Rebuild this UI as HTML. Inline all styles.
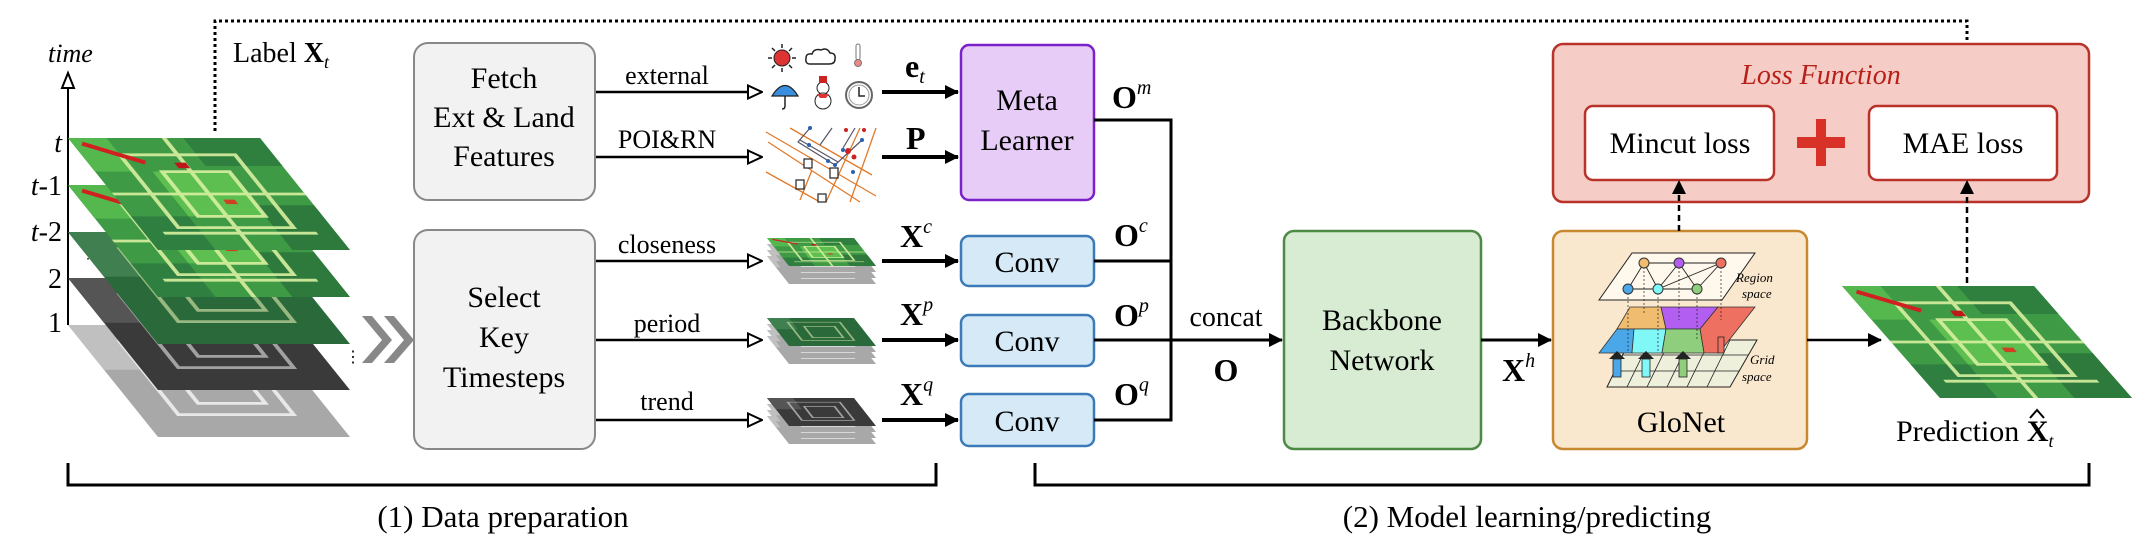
<!DOCTYPE html>
<html><head><meta charset="utf-8"><style>
html,body{margin:0;padding:0;background:#fff}
svg{display:block}
text{font-family:"Liberation Serif",serif;fill:#000}
</style></head><body>
<svg width="2144" height="542" viewBox="0 0 2144 542" xmlns="http://www.w3.org/2000/svg">
<defs>
<marker id="ahB" markerWidth="14" markerHeight="14" refX="13" refY="7" orient="auto" markerUnits="userSpaceOnUse"><path d="M0,0 L14,7 L0,14 Z" fill="#000"/></marker>
<marker id="ahO" markerWidth="16" markerHeight="16" refX="15" refY="8" orient="auto" markerUnits="userSpaceOnUse"><path d="M1,1.5 L15,8 L1,14.5 Z" fill="#fff" stroke="#000" stroke-width="2"/></marker>
<g id="grn">
<rect width="100" height="100" fill="#3f9a45"/>
<rect x="0" y="0" width="20" height="30" fill="#55b84e"/>
<rect x="60" y="0" width="40" height="25" fill="#2f7f3f"/>
<rect x="70" y="60" width="30" height="40" fill="#2d7a3c"/>
<rect x="0" y="70" width="30" height="30" fill="#2f8040"/>
<rect x="30" y="30" width="40" height="40" fill="#5cbf4f"/>
<g fill="none" stroke="#d8f0a0" stroke-width="2.5" opacity="0.9">
<rect x="20" y="15" width="60" height="65"/>
<rect x="35" y="30" width="35" height="40"/>
<path d="M0,50 H100 M50,0 V100 M10,85 H90"/>
</g>
<path d="M5,5 L30,22" stroke="#d02020" stroke-width="4"/>
<rect x="45" y="22" width="6" height="5" fill="#c01818"/>
<rect x="55" y="55" width="6" height="4" fill="#d04020"/>
</g>
<g id="dgrn">
<rect width="100" height="100" fill="#2a6a3a"/>
<rect x="0" y="0" width="25" height="40" fill="#3f7f50"/>
<g fill="none" stroke="#c8d8a0" stroke-width="2.5" opacity="0.7">
<rect x="20" y="15" width="60" height="65"/><rect x="35" y="30" width="35" height="40"/></g>
</g>
<g id="dgry">
<rect width="100" height="100" fill="#3a3a3a"/>
<rect x="0" y="0" width="30" height="40" fill="#555"/>
<g fill="none" stroke="#bbb" stroke-width="2.5" opacity="0.8">
<rect x="20" y="15" width="60" height="65"/><rect x="35" y="30" width="35" height="40"/></g>
</g>
<g id="lgry">
<rect width="100" height="100" fill="#a8a8a8"/>
<rect x="0" y="0" width="30" height="40" fill="#c0c0c0"/>
<g fill="none" stroke="#e8e8e8" stroke-width="2.5">
<rect x="20" y="15" width="60" height="65"/><rect x="35" y="30" width="35" height="40"/></g>
</g>
</defs>

<path d="M215,131 V21 H1967 V100" fill="none" stroke="#000" stroke-width="3" stroke-dasharray="3,3"/>
<path d="M1959,92 L1967,106 L1975,92 Z" fill="#000"/>

<text x="48" y="62" font-size="26" font-style="italic">time</text>
<line x1="68" y1="88" x2="68" y2="325" stroke="#000" stroke-width="2"/>
<path d="M62,88 L68,73 L74,88 Z" fill="#fff" stroke="#000" stroke-width="2"/>
<text x="62" y="152" font-size="28" font-style="italic" text-anchor="end">t</text>
<text x="62" y="195" font-size="28" text-anchor="end"><tspan font-style="italic">t</tspan>-1</text>
<text x="62" y="241" font-size="28" text-anchor="end"><tspan font-style="italic">t</tspan>-2</text>
<text x="62" y="288" font-size="28" text-anchor="end">2</text>
<text x="62" y="332" font-size="28" text-anchor="end">1</text>
<text x="81" y="258" font-size="14">⋮</text>
<text x="233" y="62" font-size="28">Label <tspan font-weight="bold">X</tspan><tspan font-size="18" font-style="italic" dy="6">t</tspan></text>

<use href="#lgry" transform="matrix(1.92,0,0.9,1.12,68,325)"/>
<use href="#dgry" transform="matrix(1.92,0,0.9,1.12,68,278)"/>
<use href="#dgrn" transform="matrix(1.92,0,0.9,1.12,68,232)"/>
<use href="#grn" transform="matrix(1.92,0,0.9,1.12,68,185)"/>
<use href="#grn" transform="matrix(1.92,0,0.9,1.12,68,138)"/>
<text x="345" y="362" font-size="16">⋮</text>

<path d="M362,316 L382,340 L362,363 L372,363 L392,340 L372,316 Z" fill="#888"/>
<path d="M384,316 L404,340 L384,363 L394,363 L414,340 L394,316 Z" fill="#888"/>

<rect x="414" y="43" width="181" height="157" rx="14" fill="#f2f2f2" stroke="#888" stroke-width="2"/>
<text x="504" y="88" font-size="30" text-anchor="middle">Fetch</text>
<text x="504" y="127" font-size="30" text-anchor="middle">Ext &amp; Land</text>
<text x="504" y="166" font-size="30" text-anchor="middle">Features</text>
<rect x="414" y="230" width="181" height="219" rx="14" fill="#f2f2f2" stroke="#888" stroke-width="2"/>
<text x="504" y="307" font-size="30" text-anchor="middle">Select</text>
<text x="504" y="347" font-size="30" text-anchor="middle">Key</text>
<text x="504" y="387" font-size="30" text-anchor="middle">Timesteps</text>

<g stroke="#000" stroke-width="2.5" marker-end="url(#ahO)">
<line x1="596" y1="92" x2="762" y2="92"/>
<line x1="596" y1="157" x2="762" y2="157"/>
<line x1="596" y1="261" x2="762" y2="261"/>
<line x1="596" y1="340" x2="762" y2="340"/>
<line x1="596" y1="420" x2="762" y2="420"/>
</g>
<g font-size="26" text-anchor="middle">
<text x="667" y="84">external</text>
<text x="667" y="148">POI&amp;RN</text>
<text x="667" y="253">closeness</text>
<text x="667" y="332">period</text>
<text x="667" y="410">trend</text>
</g>

<g>
<g stroke="#222" stroke-width="1.5"><path d="M782,44 V48 M782,68 V72 M768,58 H772 M792,58 H796 M772,48 L775,51 M792,48 L789,51 M772,68 L775,65 M792,68 L789,65"/></g>
<circle cx="782" cy="58" r="8" fill="#d33" stroke="#222" stroke-width="1"/>
<path d="M810,64 q-5,0 -4,-6 q0,-5 6,-4 q2,-6 9,-4 q6,-3 9,3 q6,0 5,6 q0,5 -6,5 Z" fill="#fff" stroke="#222" stroke-width="1.5"/>
<rect x="856" y="44" width="4" height="16" rx="2" fill="#fff" stroke="#777"/><circle cx="858" cy="63" r="3.5" fill="#e88" stroke="#777"/>
<path d="M772,96 Q785,75 798,96 Z" fill="#3a8ee0" stroke="#222" stroke-width="1.2"/><path d="M785,96 V106 q0,3 -3,3" fill="none" stroke="#222" stroke-width="1.5"/>
<circle cx="823" cy="88" r="6" fill="#fff" stroke="#222"/><circle cx="823" cy="101" r="8" fill="#fff" stroke="#222"/><rect x="819" y="76" width="8" height="7" fill="#c22"/><path d="M817,94 L829,94 L826,98 L820,98 Z" fill="#d33"/>
<circle cx="859" cy="95" r="13" fill="#fff" stroke="#666" stroke-width="2"/><circle cx="859" cy="95" r="10" fill="#fff" stroke="#999"/><path d="M859,87 V96 H865" fill="none" stroke="#222" stroke-width="1.5"/>
</g>
<g stroke="#e07a2a" stroke-width="1.3" fill="none">
<path d="M766,132 L876,196 M768,142 L860,202 M766,172 L820,202 M790,128 L872,175 M876,128 L850,202 M860,128 L826,202 M800,200 L812,170"/>
</g>
<g stroke="#556" stroke-width="1.2" fill="none"><path d="M810,128 L798,142 L835,165 L862,140 M832,128 L820,145 M855,128 L843,148 M800,140 L838,162"/></g>
<g fill="#2860b0"><circle cx="810" cy="128" r="2"/><circle cx="809" cy="145" r="2"/><circle cx="835" cy="165" r="2"/><circle cx="862" cy="140" r="2"/><circle cx="843" cy="150" r="2"/><circle cx="828" cy="161" r="2"/><circle cx="853" cy="172" r="2"/></g>
<g fill="#c22"><circle cx="848" cy="151" r="3"/><circle cx="854" cy="157" r="2.5"/><circle cx="846" cy="130" r="2"/><circle cx="864" cy="130" r="2"/></g>
<g fill="#fff" stroke="#222" stroke-width="1.2"><rect x="804" y="159" width="8" height="9"/><rect x="830" y="168" width="8" height="10"/><rect x="796" y="180" width="8" height="9"/><rect x="818" y="194" width="8" height="8"/></g>

<g>
<use href="#lgry" transform="matrix(0.87,0,0.22,0.28,767,256)"/>
<use href="#lgry" transform="matrix(0.87,0,0.22,0.28,767,250)"/>
<use href="#lgry" transform="matrix(0.87,0,0.22,0.28,767,244)"/>
<use href="#grn" transform="matrix(0.87,0,0.22,0.28,767,238)"/>
<use href="#lgry" transform="matrix(0.87,0,0.22,0.28,767,336)"/>
<use href="#lgry" transform="matrix(0.87,0,0.22,0.28,767,330)"/>
<use href="#lgry" transform="matrix(0.87,0,0.22,0.28,767,324)"/>
<use href="#dgrn" transform="matrix(0.87,0,0.22,0.28,767,318)"/>
<use href="#lgry" transform="matrix(0.87,0,0.22,0.28,767,416)"/>
<use href="#lgry" transform="matrix(0.87,0,0.22,0.28,767,410)"/>
<use href="#lgry" transform="matrix(0.87,0,0.22,0.28,767,404)"/>
<use href="#dgry" transform="matrix(0.87,0,0.22,0.28,767,398)"/>
</g>

<g stroke="#000" stroke-width="4" marker-end="url(#ahB)">
<line x1="882" y1="92" x2="958" y2="92"/>
<line x1="882" y1="157" x2="958" y2="157"/>
<line x1="882" y1="261" x2="958" y2="261"/>
<line x1="882" y1="340" x2="958" y2="340"/>
<line x1="882" y1="420" x2="958" y2="420"/>
</g>
<g font-size="32" font-weight="bold">
<text x="905" y="77">e<tspan font-size="20" font-style="italic" font-weight="normal" dy="6">t</tspan></text>
<text x="906" y="149">P</text>
<text x="900" y="247">X<tspan font-size="20" font-style="italic" font-weight="normal" dy="-14">c</tspan></text>
<text x="900" y="325">X<tspan font-size="20" font-style="italic" font-weight="normal" dy="-14">p</tspan></text>
<text x="900" y="405">X<tspan font-size="20" font-style="italic" font-weight="normal" dy="-14">q</tspan></text>
</g>

<rect x="961" y="45" width="133" height="155" rx="8" fill="#e8ccf8" stroke="#7a22c8" stroke-width="2.5"/>
<text x="1027" y="110" font-size="30" text-anchor="middle">Meta</text>
<text x="1027" y="150" font-size="30" text-anchor="middle">Learner</text>
<g fill="#d5e9f7" stroke="#3c7ab8" stroke-width="2.5">
<rect x="961" y="236" width="133" height="50" rx="8"/>
<rect x="961" y="315" width="133" height="51" rx="8"/>
<rect x="961" y="394" width="133" height="52" rx="8"/>
</g>
<g font-size="30" text-anchor="middle">
<text x="1027" y="272">Conv</text><text x="1027" y="351">Conv</text><text x="1027" y="431">Conv</text>
</g>

<g stroke="#000" stroke-width="3" fill="none">
<path d="M1094,120 H1171 V420 H1094"/>
<path d="M1094,261 H1171"/>
</g>
<line x1="1094" y1="340" x2="1282" y2="340" stroke="#000" stroke-width="3" marker-end="url(#ahB)"/>
<g font-size="32" font-weight="bold">
<text x="1112" y="108">O<tspan font-size="20" font-style="italic" font-weight="normal" dy="-14">m</tspan></text>
<text x="1114" y="246">O<tspan font-size="20" font-style="italic" font-weight="normal" dy="-14">c</tspan></text>
<text x="1114" y="326">O<tspan font-size="20" font-style="italic" font-weight="normal" dy="-14">p</tspan></text>
<text x="1114" y="405">O<tspan font-size="20" font-style="italic" font-weight="normal" dy="-14">q</tspan></text>
<text x="1226" y="381" text-anchor="middle">O</text>
</g>
<text x="1226" y="326" font-size="28" text-anchor="middle">concat</text>

<rect x="1284" y="231" width="197" height="218" rx="10" fill="#d7ecd2" stroke="#4e8a45" stroke-width="2.5"/>
<text x="1382" y="330" font-size="30" text-anchor="middle">Backbone</text>
<text x="1382" y="370" font-size="30" text-anchor="middle">Network</text>
<line x1="1481" y1="340" x2="1551" y2="340" stroke="#000" stroke-width="3" marker-end="url(#ahB)"/>
<text x="1502" y="381" font-size="32" font-weight="bold">X<tspan font-size="20" font-style="italic" font-weight="normal" dy="-14">h</tspan></text>

<rect x="1553" y="231" width="254" height="218" rx="10" fill="#fae8ce" stroke="#c8882f" stroke-width="2.5"/>
<text x="1681" y="432" font-size="30" text-anchor="middle">GloNet</text>
<path d="M1630,340 L1757,340 L1730,387 L1607,387 Z" fill="#eef0dc" stroke="#222" stroke-width="1"/>
<g stroke="#222" stroke-width="0.8"><path d="M1622,355 H1748 M1613,371 H1739 M1650,340 L1627,387 M1670,340 L1647,387 M1690,340 L1667,387 M1710,340 L1687,387 M1730,340 L1707,387"/></g>
<path d="M1630,307 L1661,307 L1666,329 L1617,329 Z" fill="#f0bd70" stroke="#333" stroke-width="0.8"/>
<path d="M1661,307 L1718,307 L1700,329 L1666,329 Z" fill="#b25ef0" stroke="#333" stroke-width="0.8"/>
<path d="M1718,307 L1755,307 L1719,353 L1704,353 L1700,329 Z" fill="#ee7060" stroke="#333" stroke-width="0.8"/>
<path d="M1617,329 L1634,329 L1632,353 L1599,353 Z" fill="#4aa8e8" stroke="#333" stroke-width="0.8"/>
<path d="M1634,329 L1666,329 L1662,353 L1632,353 Z" fill="#80f8f8" stroke="#333" stroke-width="0.8"/>
<path d="M1666,329 L1700,329 L1704,353 L1662,353 Z" fill="#8ece7c" stroke="#333" stroke-width="0.8"/>
<g stroke="#222" stroke-width="0.8"><rect x="1613" y="359" width="8" height="18" fill="#4aa8e8"/><rect x="1642" y="359" width="8" height="18" fill="#80f8f8"/><rect x="1679" y="359" width="8" height="18" fill="#8ece7c"/><rect x="1718" y="337" width="6" height="16" fill="#ee7060"/></g>
<g fill="#222"><path d="M1609,359 L1617,351 L1625,359 Z"/><path d="M1638,359 L1646,351 L1654,359 Z"/><path d="M1675,359 L1683,351 L1691,359 Z"/></g>
<path d="M1632,253 L1755,253 L1722,300 L1599,300 Z" fill="#fff8ec" stroke="#222" stroke-width="1"/>
<g stroke="#222" stroke-width="0.7" stroke-dasharray="2,2"><path d="M1628,289 V353 M1658,289 V353 M1697,289 V340 M1644,263 V315 M1679,263 V320 M1721,263 V320"/></g>
<g stroke="#222" stroke-width="0.9"><path d="M1644,263 L1679,263 L1721,263 M1628,289 L1697,289 M1644,263 L1628,289 M1644,263 L1658,289 M1679,263 L1658,289 M1679,263 L1697,289 M1721,263 L1658,289 M1721,263 L1697,289"/></g>
<circle cx="1644" cy="263" r="5" fill="#f0bd70" stroke="#333"/><circle cx="1679" cy="263" r="5" fill="#b25ef0" stroke="#333"/><circle cx="1721" cy="263" r="5" fill="#ee7060" stroke="#333"/>
<circle cx="1628" cy="289" r="5" fill="#4aa8e8" stroke="#333"/><circle cx="1658" cy="289" r="5" fill="#80f8f8" stroke="#333"/><circle cx="1697" cy="289" r="5" fill="#8ece7c" stroke="#333"/>
<g font-size="13" font-style="italic"><text x="1736" y="282">Region</text><text x="1742" y="298">space</text><text x="1750" y="364">Grid</text><text x="1742" y="381">space</text></g>

<line x1="1807" y1="340" x2="1881" y2="340" stroke="#000" stroke-width="2.5" marker-end="url(#ahB)"/>
<use href="#grn" transform="matrix(1.92,0,0.98,1.12,1842,286)"/>
<text x="1896" y="441" font-size="30">Prediction <tspan font-weight="bold">X</tspan><tspan font-size="18" font-style="italic" dy="6">t</tspan></text>
<path d="M2030,418 L2037,410 L2044,418" fill="none" stroke="#000" stroke-width="2"/>

<rect x="1553" y="44" width="536" height="158" rx="10" fill="#f5cdc6" stroke="#b8322a" stroke-width="2.5"/>
<text x="1821" y="84" font-size="28" font-style="italic" text-anchor="middle" style="fill:#b8201a">Loss Function</text>
<rect x="1585" y="106" width="189" height="74" rx="8" fill="#fff" stroke="#b8322a" stroke-width="2.5"/>
<rect x="1869" y="106" width="188" height="74" rx="8" fill="#fff" stroke="#b8322a" stroke-width="2.5"/>
<text x="1680" y="153" font-size="30" text-anchor="middle">Mincut loss</text>
<text x="1963" y="153" font-size="30" text-anchor="middle">MAE loss</text>
<path d="M1816,119 H1826 V137 H1845 V148 H1826 V166 H1816 V148 H1797 V137 H1816 Z" fill="#d83228"/>
<g stroke="#000" stroke-width="2.5" stroke-dasharray="6,4"><line x1="1679" y1="231" x2="1679" y2="192"/><line x1="1967" y1="283" x2="1967" y2="192"/></g>
<path d="M1672,194 L1679,180 L1686,194 Z" fill="#000"/><path d="M1960,194 L1967,180 L1974,194 Z" fill="#000"/>

<path d="M68,463 V485 H936 V463" fill="none" stroke="#000" stroke-width="3"/>
<path d="M1035,463 V485 H2089 V463" fill="none" stroke="#000" stroke-width="3"/>
<text x="503" y="527" font-size="31" text-anchor="middle">(1) Data preparation</text>
<text x="1527" y="527" font-size="31" text-anchor="middle">(2) Model learning/predicting</text>
</svg>
</body></html>
